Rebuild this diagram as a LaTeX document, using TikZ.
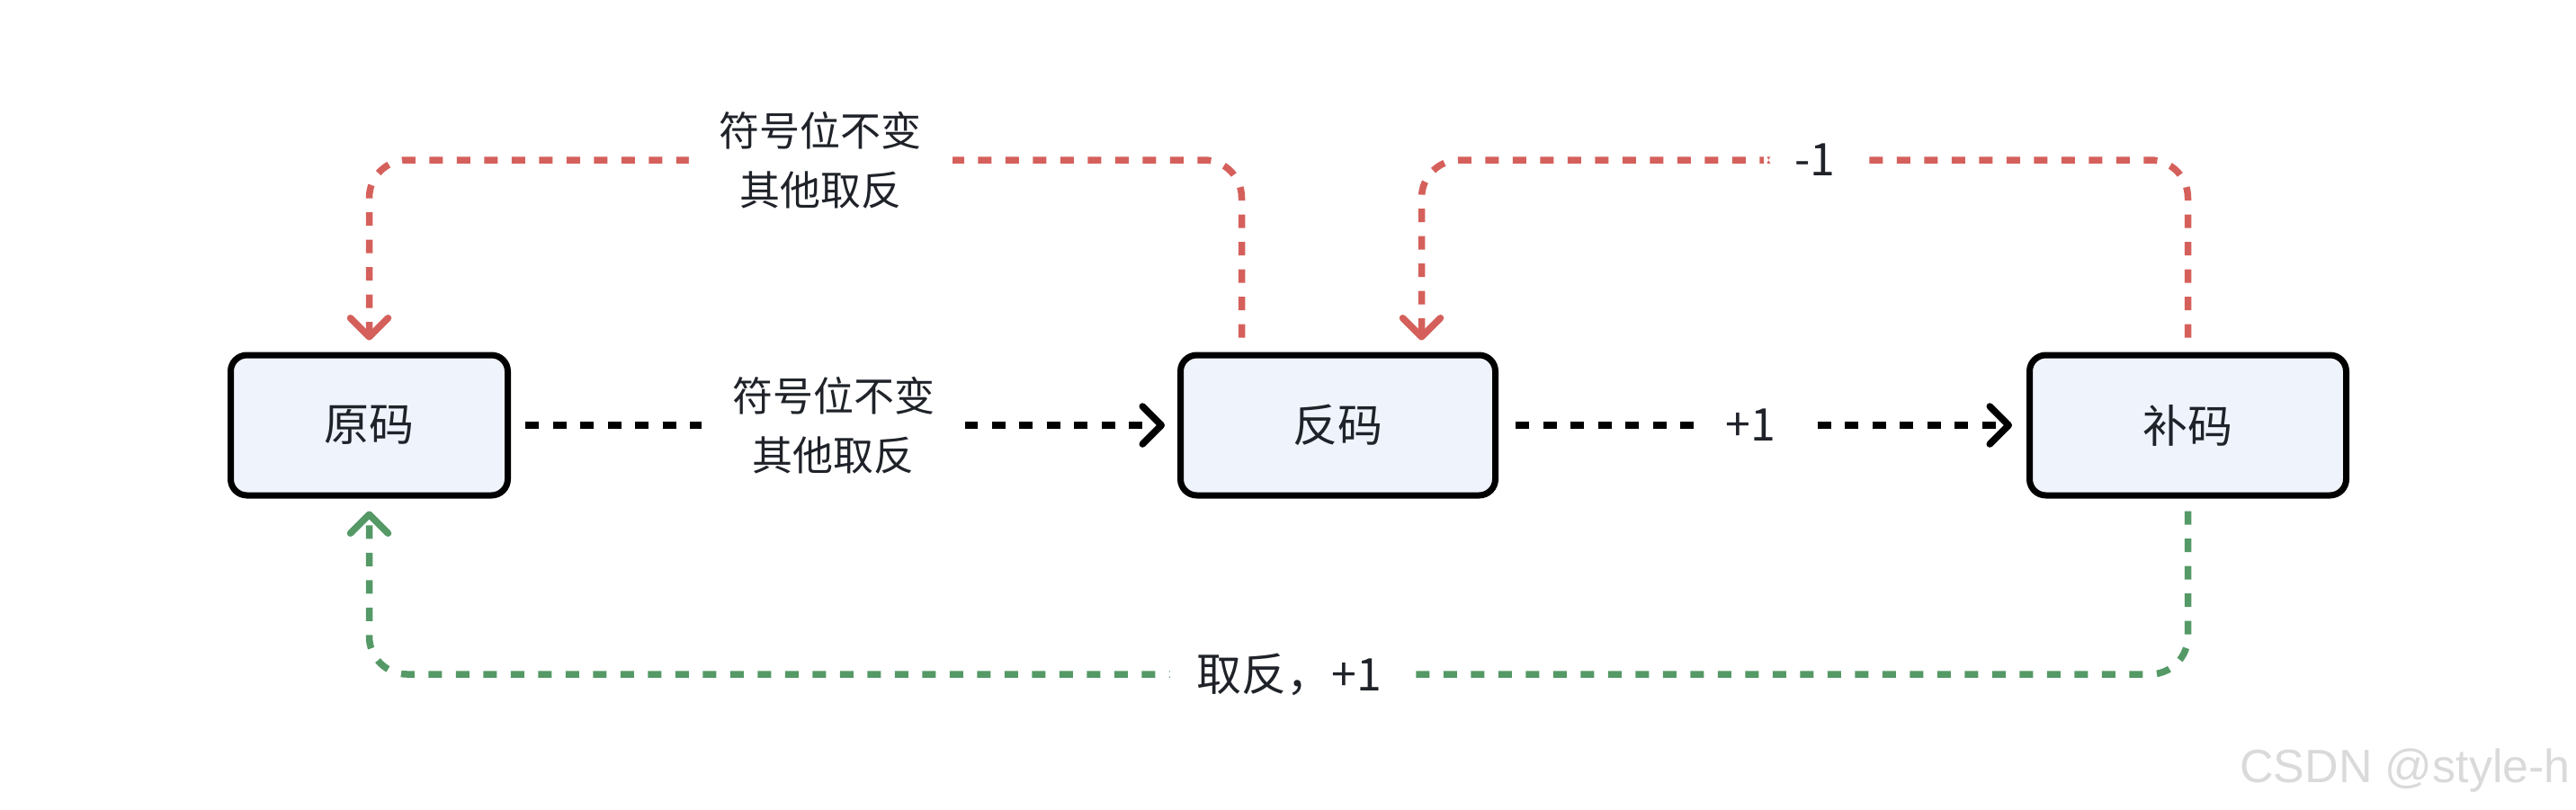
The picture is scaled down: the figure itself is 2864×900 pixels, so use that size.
\documentclass[tikz,border=0pt]{standalone}
\usepackage{fontspec}
\setmainfont{Noto Sans CJK SC}
\newfontfamily\wmfont{Liberation Sans}
\usetikzlibrary{arrows.meta,calc}
\definecolor{redc}{HTML}{D5605B}
\definecolor{greenc}{HTML}{559966}
\definecolor{boxfill}{HTML}{EFF3FC}
\definecolor{txt}{HTML}{1F2329}
\definecolor{wmc}{HTML}{DADADA}
\begin{document}
\begin{tikzpicture}[x=1pt,y=-1pt,
  box/.style={draw=black, line width=7pt, fill=boxfill, rounded corners=18pt,
    minimum height=156pt, inner sep=0pt, text=txt, font=\fontsize{50pt}{60pt}\selectfont},
  conn/.style={line width=7.5pt, dash pattern=on 15pt off 15.5pt},
  arrowtip/.style={-{Straight Barb[length=21pt,width=42pt,round]}},
  lbltwo/.style={fill=white, text=txt, align=center, inner xsep=34pt, inner ysep=6pt,
    font=\fontsize{45pt}{66pt}\selectfont},
  lblone/.style={fill=white, text=txt, inner xsep=34pt, inner ysep=4pt,
    font=\fontsize{50pt}{60pt}\selectfont},
  wm/.style={text=wmc, inner sep=0pt, font=\wmfont\fontsize{52pt}{60pt}\selectfont}]
\useasboundingbox (0,0) rectangle (2864,900);

% boxes
\node[box, minimum width=308pt] (yuan) at (410.5,473) {原码};
\node[box, minimum width=350pt] (fan) at (1487.5,473) {反码};
\node[box, minimum width=352pt] (bu) at (2432.5,473) {补码};

% helper coordinates
\coordinate (ytop) at (0,178);
\coordinate (ybot) at (0,750);
\coordinate (r1s) at ([xshift=-107pt,yshift=16pt]fan.north);
\coordinate (r1e) at ([yshift=13pt]yuan.north);
\coordinate (r2s) at ([yshift=16pt]bu.north);
\coordinate (r2e) at ([xshift=93pt,yshift=13pt]fan.north);
\coordinate (gs) at ([yshift=-14pt]bu.south);
\coordinate (ge) at ([yshift=-14pt]yuan.south);

% black forward arrows
\draw[conn, draw=black, arrowtip] ([xshift=16pt]yuan.east) --
  node[lbltwo, pos=0.482] (lblA) {符号位不变\\其他取反} ([xshift=-14pt]fan.west);
\draw[conn, draw=black, arrowtip] ([xshift=19pt]fan.east) --
  node[lblone, pos=0.473] (lblB) {+1} ([xshift=-16pt]bu.west);

% red: 反码 -> 原码
\draw[conn, draw=redc, rounded corners=42pt, arrowtip] (r1s) -- (r1s |- ytop) --
  node[lbltwo, pos=0.4825] (lblC) {符号位不变\\其他取反} (r1e |- ytop) -- (r1e);

% red: 补码 -> 反码
\draw[conn, draw=redc, rounded corners=42pt, arrowtip] (r2s) -- (r2s |- ytop) --
  node[lblone, pos=0.487] (lblD) {-1} (r2e |- ytop) -- (r2e);

% green: 补码 -> 原码
\draw[conn, draw=greenc, rounded corners=42pt, arrowtip] (gs) -- (gs |- ybot) --
  node[lblone, pos=0.494] (lblE) {取反，+1} (ge |- ybot) -- (ge);

% watermark
\node[wm, anchor=base west] (wmark) at (2490,870) {CSDN @style-h};
\end{tikzpicture}
\end{document}
